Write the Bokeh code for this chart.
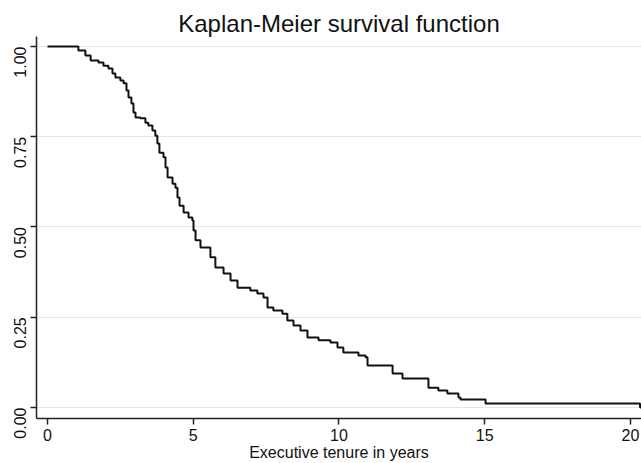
from bokeh.plotting import figure
from bokeh.models import Range1d, FixedTicker, CustomJSTickFormatter
from bokeh.embed import file_html
from bokeh.resources import INLINE
import math

# Kaplan-Meier estimate: drop times (years) and survival after each drop
times = [0.0, 1.06, 1.30, 1.48, 1.75, 1.92, 2.09, 2.23, 2.33, 2.50, 2.61,
         2.71, 2.78, 2.88, 2.95, 3.02, 3.19, 3.36, 3.46, 3.60, 3.70, 3.77, 3.84,
         3.98, 4.05, 4.12, 4.29, 4.39, 4.46, 4.53, 4.67, 4.84, 4.97, 5.01, 5.08,
         5.25, 5.59, 5.76, 6.04, 6.28, 6.52, 6.96, 7.20, 7.41, 7.55, 7.75, 8.06,
         8.23, 8.44, 8.68, 8.92, 9.30, 9.71, 9.95, 10.15, 10.67, 10.91, 10.98,
         11.84, 12.18, 13.07, 13.41, 13.72, 14.10, 14.17, 15.03, 20.33, 20.40]
survival = [1.000, 0.989, 0.975, 0.961, 0.956, 0.947, 0.939, 0.925, 0.914, 0.906,
            0.898, 0.878, 0.859, 0.842, 0.817, 0.803, 0.801, 0.789, 0.781, 0.767,
            0.753, 0.731, 0.706, 0.693, 0.665, 0.637, 0.620, 0.609, 0.582, 0.559,
            0.540, 0.526, 0.518, 0.490, 0.463, 0.443, 0.416, 0.388, 0.371, 0.352,
            0.332, 0.324, 0.316, 0.305, 0.277, 0.269, 0.260, 0.241, 0.227, 0.213,
            0.194, 0.186, 0.180, 0.166, 0.152, 0.144, 0.139, 0.116, 0.094, 0.080,
            0.055, 0.047, 0.039, 0.028, 0.022, 0.011, 0.000, 0.000]

x_ticks = [0, 5, 10, 15, 20]
y_ticks = [0.0, 0.25, 0.5, 0.75, 1.0]
title_text = "Kaplan-Meier survival function"
x_label = "Executive tenure in years"

FONT = "Liberation Sans"

p = figure(width=641, height=463, output_backend="svg", toolbar_location=None,
           x_range=Range1d(-0.377, 20.38), y_range=Range1d(-0.0305, 1.0277),
           min_border_left=36, min_border_right=0, min_border_top=36,
           min_border_bottom=45, background_fill_color="white",
           border_fill_color="white")
p.outline_line_color = None

p.title.text = title_text
p.title.align = "center"
p.title.text_font = FONT
p.title.text_font_size = "24px"
p.title.text_font_style = "normal"
p.title.text_color = "#111111"
p.title.standoff = 0

p.step(times, survival, mode="after", line_color="#111111", line_width=2)

# axes
p.xaxis.ticker = FixedTicker(ticks=x_ticks)
p.yaxis.ticker = FixedTicker(ticks=y_ticks)
p.yaxis.formatter = CustomJSTickFormatter(code="return tick.toFixed(2);")
p.yaxis.major_label_orientation = math.pi / 2
for ax in (p.xaxis, p.yaxis):
    ax.axis_line_color = "#222222"
    ax.axis_line_width = 1.5
    ax.major_tick_line_color = "#222222"
    ax.major_tick_line_width = 1.5
    ax.major_tick_out = 6
    ax.major_tick_in = 0
    ax.minor_tick_line_color = None
    ax.major_label_text_font = FONT
    ax.major_label_text_font_size = "16px"
    ax.major_label_text_color = "#111111"
p.xaxis.major_label_standoff = 4
p.yaxis.major_label_standoff = 10
p.xaxis.axis_label = x_label
p.xaxis.axis_label_text_font = FONT
p.xaxis.axis_label_text_font_size = "16px"
p.xaxis.axis_label_text_font_style = "normal"
p.xaxis.axis_label_text_color = "#111111"
p.xaxis.axis_label_standoff = 0

p.xgrid.grid_line_color = None
p.ygrid.grid_line_color = "#e6e6e6"
p.ygrid.grid_line_width = 1.2

open("out.html", "w").write(file_html(p, INLINE))
